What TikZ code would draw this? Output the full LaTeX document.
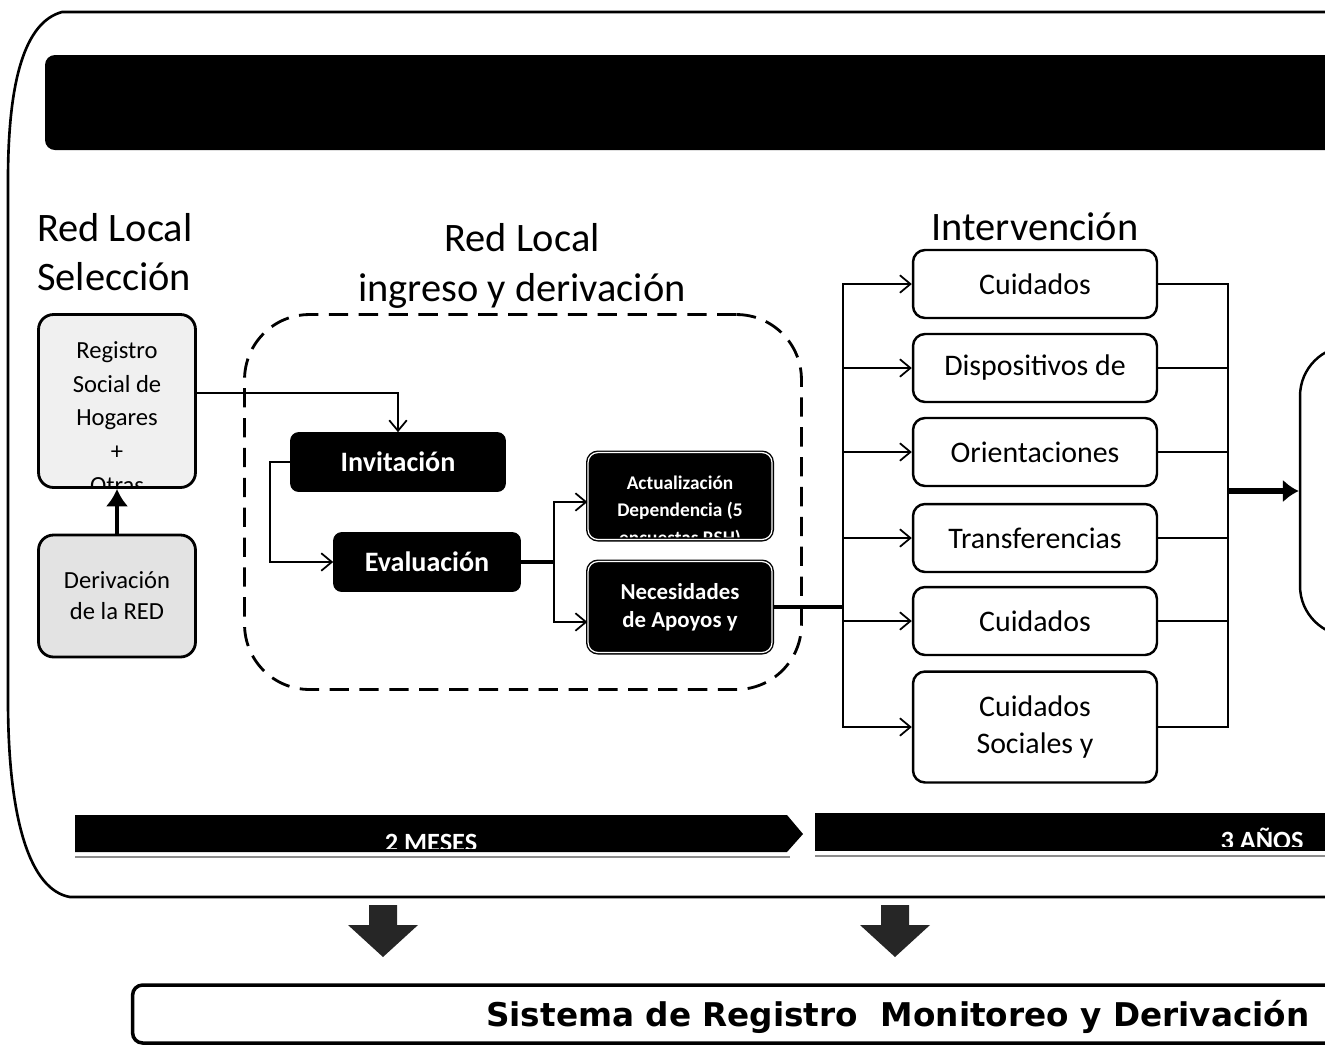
\documentclass[tikz,border=0pt]{standalone}
\usepackage{fontspec}
\setmainfont{Carlito}
\newfontfamily\widefont{DejaVu Sans}
\usetikzlibrary{arrows.meta}

\tikzset{
  titletext/.style={font=\fontsize{23}{28}\selectfont},
  selbox/.style={draw, line width=1.6pt, rounded corners=0.3cm, minimum width=3.14cm},
  blackbox/.style={fill=black, draw=black, rounded corners=0.16cm, text=white, font=\bfseries\fontsize{16}{19}\selectfont, minimum height=1.18cm},
  blackdouble/.style={fill=black, draw=black, double=white, double distance=0.7pt, line width=0.8pt, rounded corners=0.2cm, minimum width=3.68cm},
  intbox/.style={draw, line width=1.4pt, rounded corners=0.24cm, minimum width=4.88cm, minimum height=1.36cm, font=\fontsize{17}{21}\selectfont, align=center},
  groupbox/.style={draw, line width=1.6pt, dash pattern=on 11pt off 6pt, rounded corners=1.3cm},
  link/.style={line width=1pt, -{Straight Barb[length=6pt,width=10pt]}},
  bartext/.style={text=white, font=\bfseries\fontsize{15}{18}\selectfont, anchor=base},
}

\begin{document}
\begin{tikzpicture}[x=0.02cm, y=-0.02cm]
\useasboundingbox (0,0) rectangle (1325,1046);
\clip (0,0) rectangle (1325,1046);

% frame and header
\draw[line width=1.5pt] (1420,12) -- (62,12) .. controls (25,22) and (8,80) .. (8,180) -- (8,700) .. controls (8,820) and (30,890) .. (70,897) -- (1420,897);
\fill[rounded corners=0.2cm] (45,55) rectangle (1420,150);

% titles
\node[titletext, align=left, anchor=west] (selt) at (31,252) {Red Local\\Selección};
\node[titletext, align=center] (ingt) at (522,266) {Red Local\\ingreso y derivación};
\node[titletext] (intt) at (1035,227) {Intervención};

% seleccion
\node[selbox, fill=black!6, minimum height=3.46cm, path picture={
  \node[align=center, font=\fontsize{14}{19.2}\selectfont] at ([yshift=-0.33cm]path picture bounding box.center) {Registro\\Social de\\Hogares\\+\\Otras};}] (reg) at (117,401) {};
\node[selbox, fill=black!11, minimum height=2.44cm, align=center, font=\fontsize{14}{17.6}\selectfont] (der) at (117,596) {Derivación\\de la RED};
\draw[line width=2pt, -{Latex[length=10pt,width=13pt]}] (der.north) -- (reg.south);

% ingreso y derivacion
\node[groupbox, minimum width=11.14cm, minimum height=7.5cm] (ingreso) at (523,502) {};
\node[blackbox, minimum width=4.3cm] (inv) at (398,462) {Invitación};
\node[blackbox, minimum width=3.74cm] (eva) at (427,562) {Evaluación};
\node[blackdouble, minimum height=1.74cm, path picture={
  \node[text=white, align=center, font=\bfseries\fontsize{11}{15.6}\selectfont] at ([yshift=-0.31cm]path picture bounding box.center) {Actualización\\Dependencia (5\\encuestas RSH)};}] (act) at (680,496) {};
\node[blackdouble, minimum height=1.82cm, text=white, align=center, font=\bfseries\fontsize{13}{16}\selectfont] (nec) at (680,607) {Necesidades\\de Apoyos y};

\draw[link] ([yshift=0.16cm]reg.east) -| (inv.north);
\draw[link] (inv.west) -- ++(-20,0) |- (eva.west);
\draw[line width=2pt] (eva.east) -- ++(33,0) coordinate (split);
\draw[link] (split) |- ([yshift=-0.12cm]act.west);
\draw[link] (split) |- ([yshift=-0.3cm]nec.west);

% intervencion
\node[intbox] (c1) at (1035,284) {Cuidados};
\node[intbox] (c2) at (1035,368) {Dispositivos de};
\node[intbox] (c3) at (1035,452) {Orientaciones};
\node[intbox] (c4) at (1035,538) {Transferencias};
\node[intbox] (c5) at (1035,621) {Cuidados};
\node[intbox, minimum height=2.22cm] (c6) at (1035,727) {Cuidados\\Sociales y};
\node[draw, line width=1.4pt, rounded corners=1cm, minimum width=4cm, minimum height=5.8cm] (result) at (1400,491) {};

\coordinate (bus) at (843,607);
\coordinate (merge) at (1228,491);
\draw[line width=2.5pt] (nec.east) -- (bus);
\foreach \c in {c1,c2,c3,c4,c5,c6}{
  \draw[link] (bus) |- (\c.west);
  \draw[line width=1pt] (\c.east) -| (merge);
}
\draw[line width=3pt, -{Latex[length=9pt,width=13pt]}] (merge) -- (result.west);

% time bars
\fill (75,815) -- (787,815) -- (803,834) -- (787,852) -- (75,852) -- cycle;
\fill (815,813) rectangle (1420,851);
\draw[black!45, line width=0.8pt] (75,857) -- (790,857) (815,856) -- (1420,856);
\begin{scope}
  \clip (75,815) rectangle (800,848);
  \node[bartext] (meses) at (431,851) {2 MESES};
\end{scope}
\begin{scope}
  \clip (815,813) rectangle (1420,846);
  \node[bartext] (anos) at (1262,849) {3 AÑOS};
\end{scope}

% down arrows
\fill[black!85] (369,905) -- (397,905) -- (397,925) -- (418,925) -- (383,957) -- (348,925) -- (369,925) -- cycle;
\fill[black!85] (881,905) -- (909,905) -- (909,925) -- (930,925) -- (895,957) -- (860,925) -- (881,925) -- cycle;

% sistema
\node[draw, line width=2pt, rounded corners=0.2cm, minimum width=25.74cm, minimum height=1.16cm] (sistema) at (776,1014) {};
\node[anchor=base west, font=\widefont\bfseries\fontsize{18.6}{22}\selectfont] (sistemat) at (480,1026) {Sistema de Registro\ \ Monitoreo y Derivación};

\end{tikzpicture}
\end{document}
